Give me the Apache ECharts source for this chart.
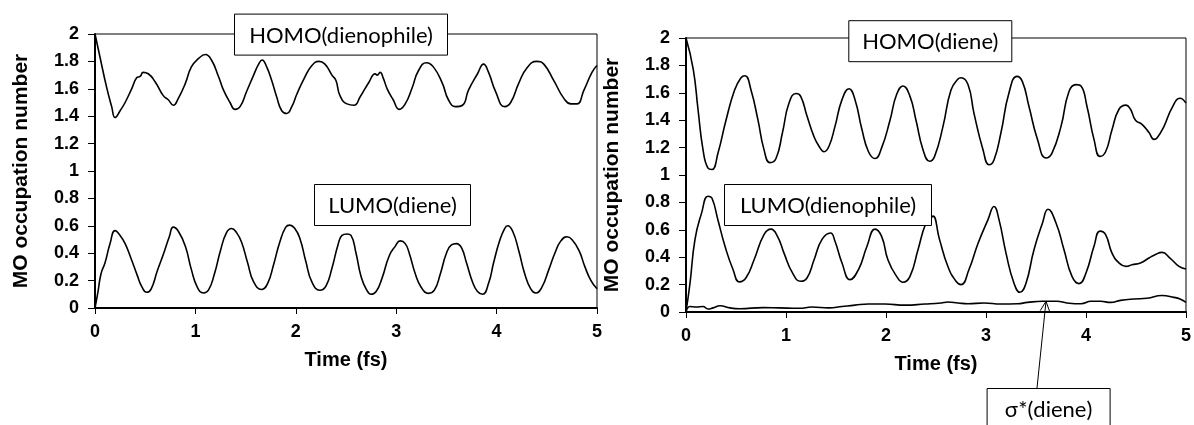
<!DOCTYPE html>
<html>
<head>
<meta charset="utf-8">
<script src="https://cdn.jsdelivr.net/npm/echarts@6/dist/echarts.min.js"></script>
<style>
html,body{margin:0;padding:0;background:#fff;}
#chart{width:1194px;height:425px;}
</style>
</head>
<body>
<div id="chart"></div>
<script>
// ---- Data (time in fs, MO occupation number) ----
const xTicks = [0, 1, 2, 3, 4, 5];
const yTicks = [0, 0.2, 0.4, 0.6, 0.8, 1, 1.2, 1.4, 1.6, 1.8, 2];

const homoDienophile = [[0,2.0],[0.05,1.83],[0.116,1.61],[0.166,1.47],[0.2,1.39],[0.25,1.44],[0.3,1.50],[0.365,1.60],[0.415,1.68],[0.45,1.69],[0.48,1.72],[0.53,1.71],[0.6,1.65],[0.68,1.55],[0.73,1.52],[0.78,1.48],[0.83,1.53],[0.9,1.64],[0.96,1.76],[1.03,1.82],[1.1,1.85],[1.16,1.81],[1.23,1.69],[1.28,1.59],[1.345,1.50],[1.395,1.45],[1.445,1.47],[1.51,1.58],[1.58,1.70],[1.63,1.78],[1.665,1.81],[1.71,1.76],[1.76,1.66],[1.81,1.54],[1.86,1.44],[1.91,1.42],[1.96,1.47],[2.01,1.56],[2.08,1.67],[2.16,1.77],[2.23,1.80],[2.29,1.78],[2.36,1.70],[2.40,1.66],[2.44,1.55],[2.51,1.49],[2.58,1.48],[2.64,1.54],[2.73,1.65],[2.79,1.71],[2.81,1.70],[2.84,1.72],[2.87,1.68],[2.91,1.60],[2.97,1.52],[3.03,1.45],[3.09,1.49],[3.16,1.61],[3.22,1.73],[3.30,1.79],[3.37,1.76],[3.46,1.64],[3.52,1.52],[3.59,1.47],[3.66,1.48],[3.72,1.59],[3.81,1.71],[3.87,1.78],[3.92,1.72],[3.99,1.58],[4.08,1.47],[4.14,1.50],[4.22,1.64],[4.30,1.75],[4.40,1.80],[4.47,1.78],[4.57,1.66],[4.67,1.53],[4.74,1.49],[4.80,1.49],[4.87,1.59],[4.95,1.72],[5.0,1.77]];

const lumoDiene = [[0,0],[0.03,0.12],[0.06,0.25],[0.1,0.33],[0.15,0.47],[0.2,0.565],[0.25,0.53],[0.3,0.47],[0.36,0.36],[0.42,0.24],[0.47,0.15],[0.515,0.115],[0.56,0.14],[0.62,0.27],[0.68,0.39],[0.74,0.52],[0.78,0.59],[0.83,0.56],[0.9,0.45],[0.96,0.28],[1.02,0.15],[1.08,0.11],[1.13,0.13],[1.19,0.25],[1.25,0.42],[1.31,0.55],[1.36,0.58],[1.41,0.55],[1.46,0.48],[1.52,0.33],[1.58,0.19],[1.66,0.135],[1.72,0.18],[1.78,0.32],[1.84,0.48],[1.9,0.59],[1.94,0.605],[1.99,0.58],[2.04,0.51],[2.1,0.34],[2.16,0.19],[2.24,0.13],[2.3,0.16],[2.36,0.29],[2.42,0.46],[2.46,0.53],[2.51,0.54],[2.55,0.53],[2.6,0.40],[2.65,0.23],[2.7,0.14],[2.75,0.10],[2.8,0.12],[2.86,0.22],[2.93,0.38],[2.99,0.45],[3.04,0.49],[3.09,0.47],[3.13,0.40],[3.19,0.25],[3.25,0.15],[3.32,0.107],[3.38,0.13],[3.44,0.25],[3.5,0.40],[3.55,0.46],[3.6,0.47],[3.65,0.44],[3.7,0.33],[3.76,0.19],[3.81,0.12],[3.86,0.10],[3.92,0.18],[3.97,0.33],[4.03,0.49],[4.08,0.58],[4.11,0.60],[4.16,0.56],[4.22,0.42],[4.28,0.25],[4.34,0.14],[4.39,0.11],[4.45,0.15],[4.52,0.28],[4.58,0.40],[4.64,0.49],[4.70,0.52],[4.75,0.50],[4.82,0.42],[4.88,0.30],[4.94,0.20],[5.0,0.14]];

const homoDiene = [[0,2.0],[0.073,1.77],[0.12,1.48],[0.17,1.185],[0.22,1.05],[0.26,1.04],[0.32,1.16],[0.40,1.40],[0.486,1.62],[0.55,1.71],[0.59,1.725],[0.65,1.62],[0.72,1.40],[0.78,1.185],[0.84,1.09],[0.90,1.12],[0.965,1.31],[1.03,1.525],[1.10,1.595],[1.147,1.574],[1.21,1.43],[1.28,1.28],[1.33,1.21],[1.38,1.17],[1.43,1.21],[1.49,1.355],[1.56,1.55],[1.63,1.63],[1.69,1.55],[1.76,1.33],[1.825,1.17],[1.89,1.12],[1.957,1.20],[2.04,1.40],[2.106,1.587],[2.17,1.65],[2.24,1.574],[2.30,1.40],[2.37,1.185],[2.436,1.10],[2.486,1.136],[2.57,1.355],[2.65,1.62],[2.72,1.70],[2.75,1.71],[2.82,1.66],[2.88,1.45],[2.97,1.185],[3.03,1.075],[3.08,1.11],[3.15,1.31],[3.23,1.60],[3.31,1.72],[3.365,1.68],[3.43,1.50],[3.515,1.26],[3.60,1.124],[3.66,1.16],[3.75,1.355],[3.83,1.61],[3.90,1.66],[3.95,1.65],[4.01,1.50],[4.08,1.26],[4.14,1.136],[4.196,1.17],[4.26,1.33],[4.33,1.48],[4.40,1.51],[4.445,1.48],[4.495,1.40],[4.56,1.37],[4.63,1.31],[4.68,1.26],[4.71,1.27],[4.78,1.355],[4.86,1.49],[4.94,1.56],[5.0,1.525]];

const lumoDienophile = [[0,0],[0.04,0.21],[0.09,0.53],[0.155,0.72],[0.22,0.845],[0.26,0.83],[0.32,0.67],[0.39,0.48],[0.47,0.31],[0.535,0.22],[0.60,0.25],[0.68,0.38],[0.78,0.565],[0.85,0.605],[0.916,0.55],[0.98,0.43],[1.065,0.285],[1.147,0.224],[1.21,0.248],[1.28,0.38],[1.36,0.53],[1.445,0.577],[1.49,0.516],[1.56,0.358],[1.64,0.236],[1.725,0.31],[1.81,0.48],[1.89,0.605],[1.957,0.55],[2.02,0.38],[2.106,0.26],[2.17,0.217],[2.24,0.26],[2.32,0.455],[2.40,0.65],[2.45,0.686],[2.47,0.70],[2.535,0.53],[2.62,0.33],[2.70,0.224],[2.75,0.20],[2.83,0.31],[2.92,0.50],[3.02,0.674],[3.08,0.77],[3.13,0.674],[3.20,0.43],[3.28,0.21],[3.34,0.144],[3.40,0.21],[3.48,0.455],[3.565,0.65],[3.62,0.75],[3.70,0.65],[3.78,0.455],[3.86,0.26],[3.93,0.207],[4.0,0.285],[4.08,0.48],[4.14,0.59],[4.196,0.565],[4.26,0.43],[4.33,0.358],[4.40,0.333],[4.46,0.345],[4.545,0.358],[4.63,0.394],[4.69,0.418],[4.76,0.435],[4.84,0.394],[4.93,0.333],[5.0,0.314]];

const sigmaStarDiene = [[0,0],[0.04,0.04],[0.105,0.036],[0.17,0.04],[0.22,0.022],[0.27,0.03],[0.34,0.046],[0.44,0.03],[0.535,0.024],[0.77,0.032],[0.93,0.03],[1.13,0.027],[1.26,0.036],[1.43,0.03],[1.56,0.04],[1.69,0.05],[1.825,0.058],[1.99,0.058],[2.19,0.05],[2.39,0.058],[2.55,0.066],[2.62,0.073],[2.72,0.066],[2.82,0.06],[2.98,0.066],[3.15,0.058],[3.315,0.06],[3.415,0.07],[3.565,0.078],[3.71,0.078],[3.81,0.066],[3.95,0.06],[4.05,0.078],[4.146,0.078],[4.246,0.07],[4.345,0.085],[4.48,0.095],[4.61,0.10],[4.76,0.12],[4.88,0.107],[4.94,0.095],[5.0,0.07]];

const labels = {
  homoDienophile: 'HOMO(dienophile)',
  lumoDiene: 'LUMO(diene)',
  homoDiene: 'HOMO(diene)',
  lumoDienophile: 'LUMO(dienophile)',
  sigmaStar: 'σ*(diene)'
};
const arrowTarget = [3.6, 0.078];

// ---- Chart ----
const chart = echarts.init(document.getElementById('chart'), null, {renderer: 'canvas'});
const AXFONT = '"Liberation Sans", Arial, sans-serif';
const BOXFONT = 'Lato, sans-serif';

function xAx(gi) {
  return {
    type: 'value', gridIndex: gi, min: xTicks[0], max: xTicks[xTicks.length - 1], interval: 1,
    name: 'Time (fs)', nameLocation: 'middle', nameGap: 42,
    nameTextStyle: {fontFamily: AXFONT, fontWeight: 'bold', fontSize: 20, color: '#000'},
    axisLine: {show: true, onZero: false, lineStyle: {color: '#000', width: 2}},
    axisTick: {show: true, inside: false, length: 6, lineStyle: {color: '#000', width: 1}},
    axisLabel: {margin: 15, fontFamily: AXFONT, fontWeight: 'bold', fontSize: 18, color: '#000'},
    splitLine: {show: false}
  };
}
function yAx(gi) {
  return {
    type: 'value', gridIndex: gi, min: yTicks[0], max: yTicks[yTicks.length - 1], interval: 0.2,
    name: 'MO occupation number', nameLocation: 'middle', nameGap: 63, nameRotate: 90,
    nameTextStyle: {fontFamily: AXFONT, fontWeight: 'bold', fontSize: 21, color: '#000'},
    axisLine: {show: true, onZero: false, lineStyle: {color: '#000', width: 2}},
    axisTick: {show: true, inside: false, length: 7, lineStyle: {color: '#000', width: 1}},
    axisLabel: {margin: 16, fontFamily: AXFONT, fontWeight: 'bold', fontSize: 18, color: '#000',
      formatter: v => String(Math.round(v * 10) / 10)},
    splitLine: {show: false}
  };
}
function line(data, gi) {
  return {
    type: 'line', xAxisIndex: gi, yAxisIndex: gi, data: data, showSymbol: false, symbol: 'none',
    smooth: 0.5, lineStyle: {color: '#000', width: 1.6}, z: 3, silent: true
  };
}
function box(cx, cy, w, h, text) {
  return {
    type: 'group', z: 100,
    children: [
      {type: 'rect', shape: {x: cx - w / 2, y: cy - h / 2, width: w, height: h},
       style: {fill: '#fff', stroke: '#000', lineWidth: 1}, z: 100},
      {type: 'text', x: cx, y: cy + 1, z: 101,
       style: {text: text, font: '22px ' + BOXFONT, fill: '#000', textAlign: 'center', textVerticalAlign: 'middle'}}
    ]
  };
}

const option = {
  animation: false,
  backgroundColor: '#fff',
  grid: [
    {left: 95, top: 34, width: 502, height: 274, show: true, borderColor: '#000', borderWidth: 1, backgroundColor: 'transparent'},
    {left: 686, top: 38, width: 503, height: 274, show: true, borderColor: '#000', borderWidth: 1, backgroundColor: 'transparent'}
  ],
  xAxis: [xAx(0), xAx(1)],
  yAxis: [yAx(0), yAx(1)],
  series: [
    line(homoDienophile, 0),
    line(lumoDiene, 0),
    line(homoDiene, 1),
    line(lumoDienophile, 1),
    line(sigmaStarDiene, 1)
  ]
};
chart.setOption(option);

const tip = chart.convertToPixel({gridIndex: 1}, arrowTarget);
const tail = [1037, 388];
const ang = Math.atan2(tail[1] - tip[1], tail[0] - tip[0]);
const ah = 11, spread = 0.45;
const a1 = [tip[0] + ah * Math.cos(ang + spread), tip[1] + ah * Math.sin(ang + spread)];
const a2 = [tip[0] + ah * Math.cos(ang - spread), tip[1] + ah * Math.sin(ang - spread)];

chart.setOption({
  graphic: [
    box(341, 34.6, 213, 41, labels.homoDienophile),
    box(392.5, 205, 156, 41, labels.lumoDiene),
    box(930.3, 41.2, 163, 41, labels.homoDiene),
    box(828, 205, 207, 41, labels.lumoDienophile),
    {type: 'polyline', z: 90, shape: {points: [tail, tip]}, style: {stroke: '#000', lineWidth: 1, fill: null}},
    {type: 'polyline', z: 90, shape: {points: [a1, tip, a2]}, style: {stroke: '#000', lineWidth: 1, fill: null}},
    box(1048.6, 409, 123, 41, labels.sigmaStar)
  ]
});
</script>
</body>
</html>
